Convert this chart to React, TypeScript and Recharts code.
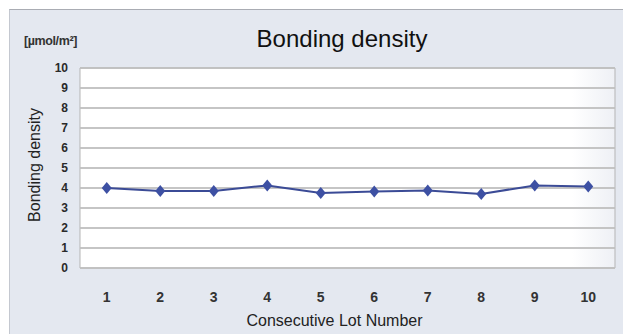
import { LineChart, Line, XAxis, YAxis, CartesianGrid, Label, ReferenceArea, ReferenceLine } from "recharts"

const lots = ["1", "2", "3", "4", "5", "6", "7", "8", "9", "10"]
const density = [4.0, 3.85, 3.85, 4.13, 3.75, 3.82, 3.88, 3.7, 4.13, 4.07]
const yTicks = [0, 1, 2, 3, 4, 5, 6, 7, 8, 9, 10]

const data = lots.map((lot, i) => ({ lot, density: density[i] }))

const FONT = "'Liberation Sans', Arial, sans-serif"

// diamond marker like the original Excel chart
const Diamond = (props: any) => {
  const { cx, cy } = props
  if (cx == null || cy == null) return null
  return (
    <polygon
      points={`${cx},${cy - 6} ${cx + 5},${cy} ${cx},${cy + 6} ${cx - 5},${cy}`}
      fill="#3d50a3"
    />
  )
}

export default function App() {
  return (
    <div style={{ position: "absolute", left: 0, top: 0, width: 623, height: 334, background: "#fff", fontFamily: FONT }}>
      {/* panel background */}
      <div
        style={{
          position: "absolute",
          left: 9,
          top: 9,
          width: 614,
          height: 325,
          background: "#e4e8f0",
          borderTop: "1px solid #a9acb3",
          borderLeft: "1px solid #c4c8d0",
        }}
      />
      <div style={{ position: "absolute", left: 24, top: 34, fontSize: 12.5, fontWeight: "bold", color: "#333", letterSpacing: -0.4 }}>
        [µmol/m²]
      </div>
      <div style={{ position: "absolute", left: 80, width: 524, top: 25, textAlign: "center", fontSize: 24, color: "#111" }}>
        Bonding density
      </div>
      <div style={{ position: "absolute", left: 0, top: 0 }}>
        <LineChart width={623} height={334} data={data} margin={{ top: 68, right: 8, bottom: 0, left: 46 }}>
          <defs>
            <linearGradient id="plotFill" x1="0" y1="0" x2="1" y2="0">
              <stop offset="0.92" stopColor="#ffffff" />
              <stop offset="1" stopColor="#eef0f5" />
            </linearGradient>
          </defs>
          <CartesianGrid horizontal={true} vertical={false} stroke="#bdbdbd" strokeWidth={1.5} fill="url(#plotFill)" fillOpacity={1} />
          {yTicks.map((t) => (
            <ReferenceLine key={t} y={t} stroke="#c2c2c2" strokeWidth={1.6} ifOverflow="visible" />
          ))}
          <ReferenceArea y1={0} y2={10} fill="none" stroke="#b5b5b5" />
          <XAxis
            dataKey="lot"
            scale="band"
            height={66}
            axisLine={false}
            tickLine={false}
            tickMargin={18}
            tick={{ fontSize: 14, fontWeight: "bold", fill: "#333", fontFamily: FONT }}
          >
            <Label value="Consecutive Lot Number" position="insideBottom" offset={8} dx={-13} style={{ fontSize: 16, fill: "#222", fontFamily: FONT }} />
          </XAxis>
          <YAxis
            width={34}
            domain={[0, 10]}
            ticks={yTicks}
            interval={0}
            axisLine={false}
            tickLine={false}
            tickMargin={6}
            tick={{ fontSize: 12, fontWeight: "bold", fill: "#2a2a2a", fontFamily: FONT }}
          >
            <Label value="Bonding density" angle={-90} position="insideLeft" offset={-12} dy={-3} style={{ textAnchor: "middle", fontSize: 16, fill: "#222", fontFamily: FONT }} />
          </YAxis>
          <Line
            dataKey="density"
            stroke="#3b4b96"
            strokeWidth={2}
            dot={<Diamond />}
            activeDot={false}
            isAnimationActive={false}
          />
        </LineChart>
      </div>
    </div>
  )
}
